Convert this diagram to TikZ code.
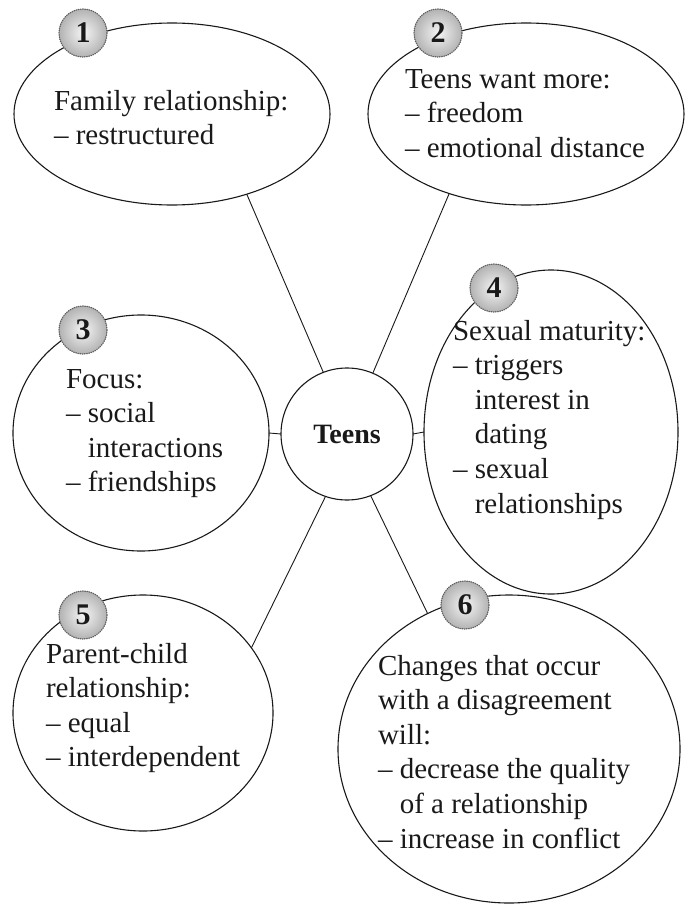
\documentclass[tikz,border=0pt]{standalone}
\usepackage{fontspec}
\setmainfont{Liberation Serif}
\usetikzlibrary{shapes.geometric}
\newcommand\contind{\hphantom{– }}
\begin{document}
\begin{tikzpicture}[x=1pt,y=-1pt,
  bubble/.style={draw=black!90, ellipse, line width=1.1pt, inner sep=0pt, outer sep=0pt},
  hub/.style={draw=black!90, circle, line width=1.1pt, minimum size=132pt, inner sep=0pt, outer sep=0pt, font=\fontsize{28}{34}\selectfont\bfseries, text=black!90},
  link/.style={line width=0.9pt, draw=black!90},
  badge/.style={circle, minimum size=48pt, inner sep=0pt, shade, inner color=gray!8, outer color=gray!60, draw=gray!75!black, line width=1.3pt, dash pattern=on 0.6pt off 1.6pt, line cap=round, font=\fontsize{30}{30}\selectfont\bfseries, text=black!90},
  bodytext/.style={anchor=base west, inner sep=0pt, outer sep=0pt, font=\fontsize{29}{34.6}\selectfont, text=black!90}
]
\useasboundingbox (0,0) rectangle (691,910);

% bubbles
\node[bubble, minimum width=316pt, minimum height=182pt] (e1) at (172,114) {};
\node[bubble, minimum width=316pt, minimum height=182pt] (e2) at (526,114) {};
\node[bubble, minimum width=256pt, minimum height=236pt] (e3) at (141,433) {};
\node[bubble, minimum width=254pt, minimum height=324pt] (e4) at (551,432) {};
\node[bubble, minimum width=260pt, minimum height=236pt] (e5) at (143,713) {};
\node[bubble, minimum width=342pt, minimum height=308pt] (e6) at (509,749) {};
\node[hub] (teens) at (347,434) {Teens};

% connectors
\draw[link] (teens.111.5) -- (e1.-47);
\draw[link] (teens.67.7) -- (e2.-134);
\draw[link] (teens.180) -- (e3.0);
\draw[link] (teens.0) -- (e4.180);
\draw[link] (teens.251) -- (e5.31);
\draw[link] (teens.-69) -- (e6.121);

% badges
\node[badge] (b1) at (83,33) {1};
\node[badge] (b2) at (438,33) {2};
\node[badge] (b3) at (83,330) {3};
\node[badge] (b4) at (494,288) {4};
\node[badge] (b5) at (83,615) {5};
\node[badge] (b6) at (465,605) {6};

% texts
\node[bodytext] (t1) at (54,110) {\begin{tabular}[t]{@{}l@{}}Family relationship:\\– restructured\end{tabular}};
\node[bodytext] (t2) at (405,88) {\begin{tabular}[t]{@{}l@{}}Teens want more:\\– freedom\\– emotional distance\end{tabular}};
\node[bodytext] (t3) at (66,388) {\begin{tabular}[t]{@{}l@{}}Focus:\\– social\\\contind interactions\\– friendships\end{tabular}};
\node[bodytext] (t4) at (453,340) {\begin{tabular}[t]{@{}l@{}}Sexual maturity:\\– triggers\\\contind interest in\\\contind dating\\– sexual\\\contind relationships\end{tabular}};
\node[bodytext] (t5) at (46,663) {\begin{tabular}[t]{@{}l@{}}Parent-child\\relationship:\\– equal\\– interdependent\end{tabular}};
\node[bodytext] (t6) at (378,675) {\begin{tabular}[t]{@{}l@{}}Changes that occur\\with a disagreement\\will:\\– decrease the quality\\\contind of a relationship\\– increase in conflict\end{tabular}};
\end{tikzpicture}
\end{document}
